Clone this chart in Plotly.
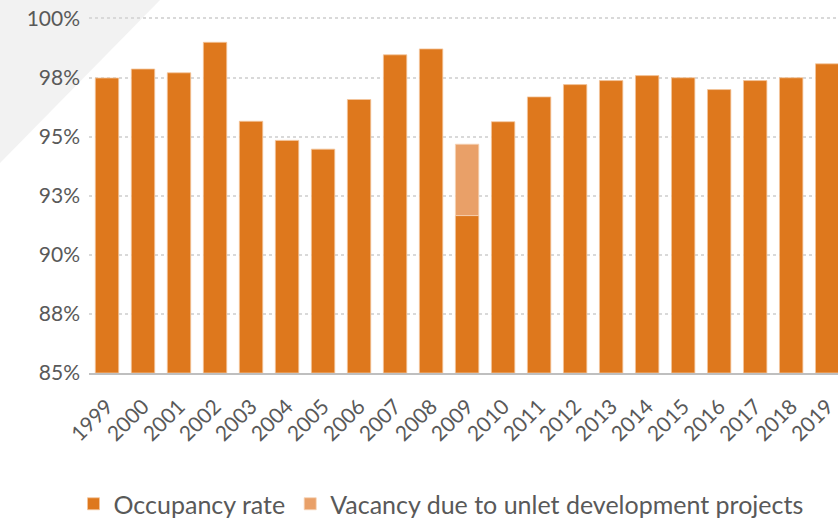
import plotly.graph_objects as go

years = [str(y) for y in range(1999, 2020)]
occupancy = [97.48, 97.86, 97.70, 98.99, 95.65, 94.84, 94.47, 96.57, 98.46, 98.71,
             91.66, 95.63, 96.68, 97.20, 97.37, 97.58, 97.49, 96.99, 97.37, 97.49, 98.08]
vacancy_dev = [None] * 10 + [3.02] + [None] * 10
ytick_vals = [85, 87.5, 90, 92.5, 95, 97.5, 100]
ytick_text = ["85%", "88%", "90%", "93%", "95%", "98%", "100%"]

BASE = 85
FONT = "Lato, 'Open Sans', sans-serif"
TXT = "#595959"

fig = go.Figure()
fig.add_trace(go.Bar(
    x=years, y=[v - BASE for v in occupancy], base=BASE,
    name="Occupancy rate",
    marker=dict(color="#DE781D", line=dict(color="#F4C79E", width=0.8)),
))
fig.add_trace(go.Bar(
    x=years, y=vacancy_dev, base=occupancy,
    name="Vacancy due to unlet development projects",
    marker=dict(color="#E9A068", line=dict(color="#F6D3B5", width=0.8)),
))

L, T = 89, 17
W, H = 838, 519
BOT = 373
plot_w = W - L
plot_h = BOT - T

def px(x):
    return (x - L) / plot_w

def py(y):
    return (BOT - y) / plot_h

path = f"M {px(0)} {py(0)} L {px(160)} {py(0)} L {px(0)} {py(163)} Z"
fig.add_shape(type="path", xref="paper", yref="paper", path=path,
              fillcolor="#F2F2F2", line=dict(width=0), layer="below")

fig.update_layout(
    width=W, height=H,
    margin=dict(l=L, r=0, t=T, b=H - BOT, autoexpand=False),
    paper_bgcolor="white", plot_bgcolor="rgba(0,0,0,0)",
    barmode="overlay", bargap=0.35,
    font=dict(family=FONT, color=TXT, size=21),
    showlegend=True,
    legend=dict(orientation="h", xref="container", x=441 / W, xanchor="center",
                yref="container", y=1 - 504 / H, yanchor="middle",
                font=dict(size=25, color=TXT), itemwidth=30, tracegroupgap=0),
    xaxis=dict(range=[-0.5, 20.3], tickangle=-45, showline=True, linecolor="#BFBFBF",
               linewidth=2, ticks="", showgrid=False, ticklabelstandoff=11,
               automargin=False, tickfont=dict(size=21, color=TXT)),
    yaxis=dict(range=[85, 100.06], tickvals=ytick_vals, ticktext=ytick_text,
               showgrid=True, gridcolor="#D9D9D9", griddash="dot", gridwidth=1.5,
               zeroline=False, showline=False, ticks="", ticklabelstandoff=8,
               automargin=False, tickfont=dict(size=21, color=TXT)),
)

fig.write_html("out.html", config={"displayModeBar": False},
               post_script="document.body.style.margin='0';document.body.style.overflow='hidden';")
